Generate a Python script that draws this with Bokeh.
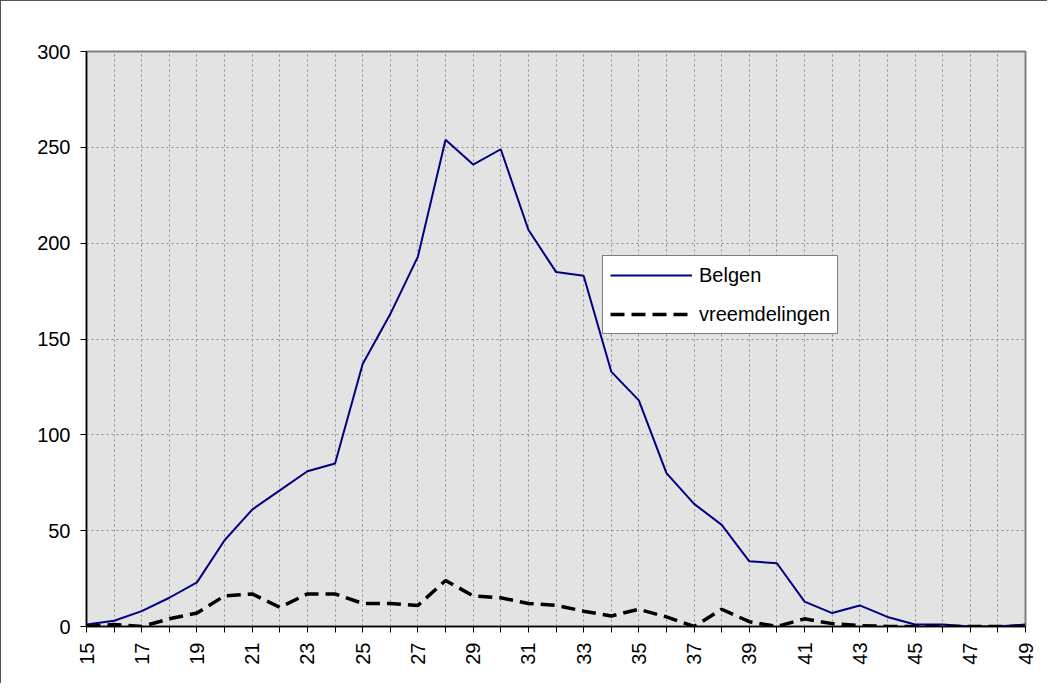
import math
from bokeh.plotting import figure
from bokeh.models import Range1d, FixedTicker, Legend, LegendItem
from bokeh.embed import file_html
from bokeh.resources import INLINE

ages = list(range(15, 50))
belgen = [1, 3, 8, 15, 23, 45, 61, 71, 81, 85, 137, 163, 193, 254, 241, 249, 207, 185, 183,
          133, 118, 80, 64, 53, 34, 33, 13, 7, 11, 5, 1, 1, 0, 0, 1]
vreemdelingen = [0, 1, 0, 4, 7, 16, 17, 10, 17, 17, 12, 12, 11, 24, 16, 15, 12, 11, 8,
                 5.5, 9, 5, 0, 9, 2.5, 0, 4, 1.5, 0.5, 0, 0, 0, 0, 0, 0]
y_ticks = [0, 50, 100, 150, 200, 250, 300]
x_label_ticks = [a for a in ages if a % 2 == 1]

FONT = "Liberation Sans"

p = figure(width=1047, height=683, output_backend="svg", toolbar_location=None,
           x_range=Range1d(15, 49), y_range=Range1d(0, 300),
           min_border_left=85, min_border_right=23, min_border_top=50, min_border_bottom=58)
p.styles = {"border-top": "1px solid #555555", "border-left": "1px solid #555555"}
p.background_fill_color = "#e3e3e3"
p.border_fill_color = "white"
p.outline_line_color = "#808080"
p.outline_line_width = 2

# axes
p.xaxis.ticker = FixedTicker(ticks=ages)
p.xaxis.major_label_overrides = {a: (str(a) if a in x_label_ticks else "") for a in ages}
p.xaxis.major_label_orientation = math.pi / 2
p.yaxis.ticker = FixedTicker(ticks=y_ticks)
for ax in (p.xaxis, p.yaxis):
    ax.axis_line_color = "black"
    ax.axis_line_width = 1.5
    ax.major_tick_line_color = "black"
    ax.major_tick_out = 6
    ax.major_tick_in = 0
    ax.minor_tick_line_color = None
    ax.major_label_text_font = FONT
    ax.major_label_text_font_size = "20px"
    ax.major_label_text_color = "black"
    ax.major_label_standoff = 10

p.xgrid.ticker = FixedTicker(ticks=ages)
p.ygrid.ticker = FixedTicker(ticks=y_ticks)
for g in (p.xgrid, p.ygrid):
    g.grid_line_color = "#8c8c8c"
    g.grid_line_dash = "2 3"
    g.grid_line_width = 1

r1 = p.line(ages, belgen, line_color="#000080", line_width=2)
r2 = p.line(ages, vreemdelingen, line_color="black", line_width=3.5, line_dash="14 7")

legend = Legend(items=[LegendItem(label="Belgen", renderers=[r1]),
                       LegendItem(label="vreemdelingen", renderers=[r2])],
                location=(516, 292))
legend.label_text_font = FONT
legend.label_text_font_size = "20px"
legend.label_text_color = "black"
legend.glyph_width = 82
legend.glyph_height = 24
legend.label_height = 24
legend.spacing = 15
legend.padding = 7
legend.margin = 0
legend.label_standoff = 7
legend.border_line_color = "black"
legend.border_line_width = 1
legend.background_fill_color = "white"
legend.background_fill_alpha = 1
p.add_layout(legend)

open("out.html", "w").write(file_html(p, INLINE))
